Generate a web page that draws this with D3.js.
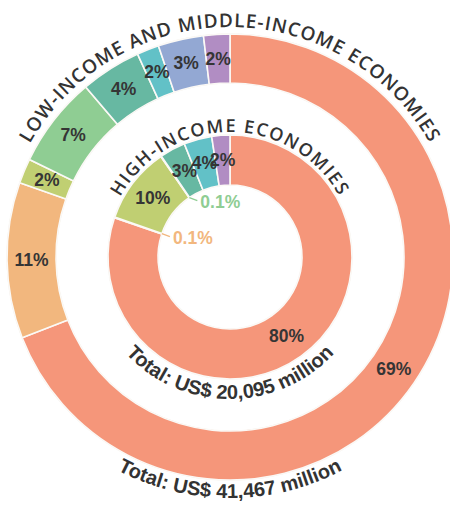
<!DOCTYPE html>
<html>
<head>
<meta charset="utf-8">
<script src="https://cdn.jsdelivr.net/npm/d3@7/dist/d3.min.js"></script>
<style>
  html, body { margin: 0; padding: 0; background: #ffffff; }
  svg { display: block; }
</style>
</head>
<body>
<div id="chart"></div>
<script>
// ---- data ----
const categories = ["Category 1", "Category 2", "Category 3", "Category 4", "Category 5", "Category 6", "Category 7", "Category 8"];
const categoryColors = ["#F5967A", "#F2B77E", "#C0CF72", "#8FCD93", "#67B8A2", "#62C1C7", "#93A8D3", "#B18DC3"];
// shares (%) of each category
const lowMiddleShares = [69.1, 11.3, 1.8, 6.6, 4.4, 1.6, 3.3, 1.9];
const highShares      = [80.2, 0.1, 10.1, 0.1, 3.4, 3.7, 0, 2.4];
const ringTitles = ["LOW-INCOME AND MIDDLE-INCOME ECONOMIES", "HIGH-INCOME ECONOMIES"];
const ringTotals = ["Total: US$ 41,467 million", "Total: US$ 20,095 million"];

// ---- layout ----
const W = 450, H = 506;
const cx = 230, cy = 257;
const rings = [
  { shares: lowMiddleShares, r0: 174, r1: 223, title: ringTitles[0], total: ringTotals[0],
    titleR: 230, titleSize: 19, titleLS: 1.0, totalR: 241 },
  { shares: highShares, r0: 72, r1: 122, title: ringTitles[1], total: ringTotals[1],
    titleR: 125, titleSize: 18, titleLS: 1.6, totalR: 142 }
];

const color = d3.scaleOrdinal().domain(categories).range(categoryColors);
const pie = d3.pie().sort(null).value(d => d.v);
const fmt = v => v >= 1 ? Math.round(v) + "%" : v.toFixed(1) + "%";

const svg = d3.select("#chart").append("svg")
  .attr("width", W).attr("height", H);
const g = svg.append("g").attr("transform", `translate(${cx},${cy})`);
const defs = svg.append("defs");

function topArcPath(R, a) {
  const s = a * Math.PI / 180;
  return `M${-R * Math.sin(s)},${-R * Math.cos(s)} A${R},${R} 0 0 1 ${R * Math.sin(s)},${-R * Math.cos(s)}`;
}
function bottomArcPath(R, a) {
  const s = a * Math.PI / 180;
  return `M${-R * Math.sin(s)},${R * Math.cos(s)} A${R},${R} 0 0 0 ${R * Math.sin(s)},${R * Math.cos(s)}`;
}

rings.forEach((ring, ri) => {
  const data = categories.map((c, i) => ({ c, v: ring.shares[i] }));
  const arcs = pie(data);
  const arc = d3.arc().innerRadius(ring.r0).outerRadius(ring.r1);

  // soft ring edge
  g.append("path")
    .attr("d", d3.arc().innerRadius(ring.r0 - 0.5).outerRadius(ring.r1 + 0.5).startAngle(0).endAngle(2 * Math.PI)())
    .attr("fill", "#ece6df");

  g.append("g").selectAll("path").data(arcs.filter(d => d.data.v > 0)).join("path")
    .attr("d", arc)
    .attr("fill", d => color(d.data.c))
    .attr("stroke", "#fbf9f6")
    .attr("stroke-width", 1.6);

  // labels
  const labelG = g.append("g")
    .attr("font-family", "'Liberation Sans', Arial, sans-serif")
    .attr("font-weight", "bold")
    .attr("font-size", 17.5);

  arcs.forEach(d => {
    if (d.data.v <= 0) return;
    if (d.data.v >= 1) {
      const [x, y] = arc.centroid(d);
      labelG.append("text")
        .attr("x", x).attr("y", y)
        .attr("text-anchor", "middle")
        .attr("dominant-baseline", "central")
        .attr("fill", "#353535")
        .text(fmt(d.data.v));
    } else {
      const a = (d.startAngle + d.endAngle) / 2;
      const x0 = ring.r0 * Math.sin(a), y0 = -ring.r0 * Math.cos(a);
      const x1 = x0 + 8, y1 = y0 + 3;
      labelG.append("line")
        .attr("x1", x0).attr("y1", y0).attr("x2", x1).attr("y2", y1)
        .attr("stroke", color(d.data.c)).attr("stroke-width", 1.3);
      labelG.append("text")
        .attr("x", x1 + 3).attr("y", y1 + 1)
        .attr("text-anchor", "start")
        .attr("dominant-baseline", "central")
        .attr("fill", color(d.data.c))
        .text(fmt(d.data.v));
    }
  });

  // curved title
  const tid = "title" + ri, bid = "total" + ri;
  defs.append("path").attr("id", tid).attr("d", topArcPath(ring.titleR, 89))
    .attr("transform", `translate(${cx},${cy})`);
  defs.append("path").attr("id", bid).attr("d", bottomArcPath(ring.totalR, 89))
    .attr("transform", `translate(${cx},${cy})`);

  svg.append("text")
    .attr("font-family", "'Open Sans', sans-serif")
    .attr("font-weight", 600)
    .attr("font-size", ring.titleSize)
    .attr("letter-spacing", ring.titleLS)
    .attr("fill", "#333")
    .append("textPath")
    .attr("href", "#" + tid)
    .attr("startOffset", "50%")
    .attr("text-anchor", "middle")
    .text(ring.title);

  svg.append("text")
    .attr("font-family", "'Liberation Sans', Arial, sans-serif")
    .attr("font-weight", "bold")
    .attr("font-size", 20)
    .attr("fill", "#333")
    .append("textPath")
    .attr("href", "#" + bid)
    .attr("startOffset", "50%")
    .attr("text-anchor", "middle")
    .text(ring.total);
});
</script>
</body>
</html>
